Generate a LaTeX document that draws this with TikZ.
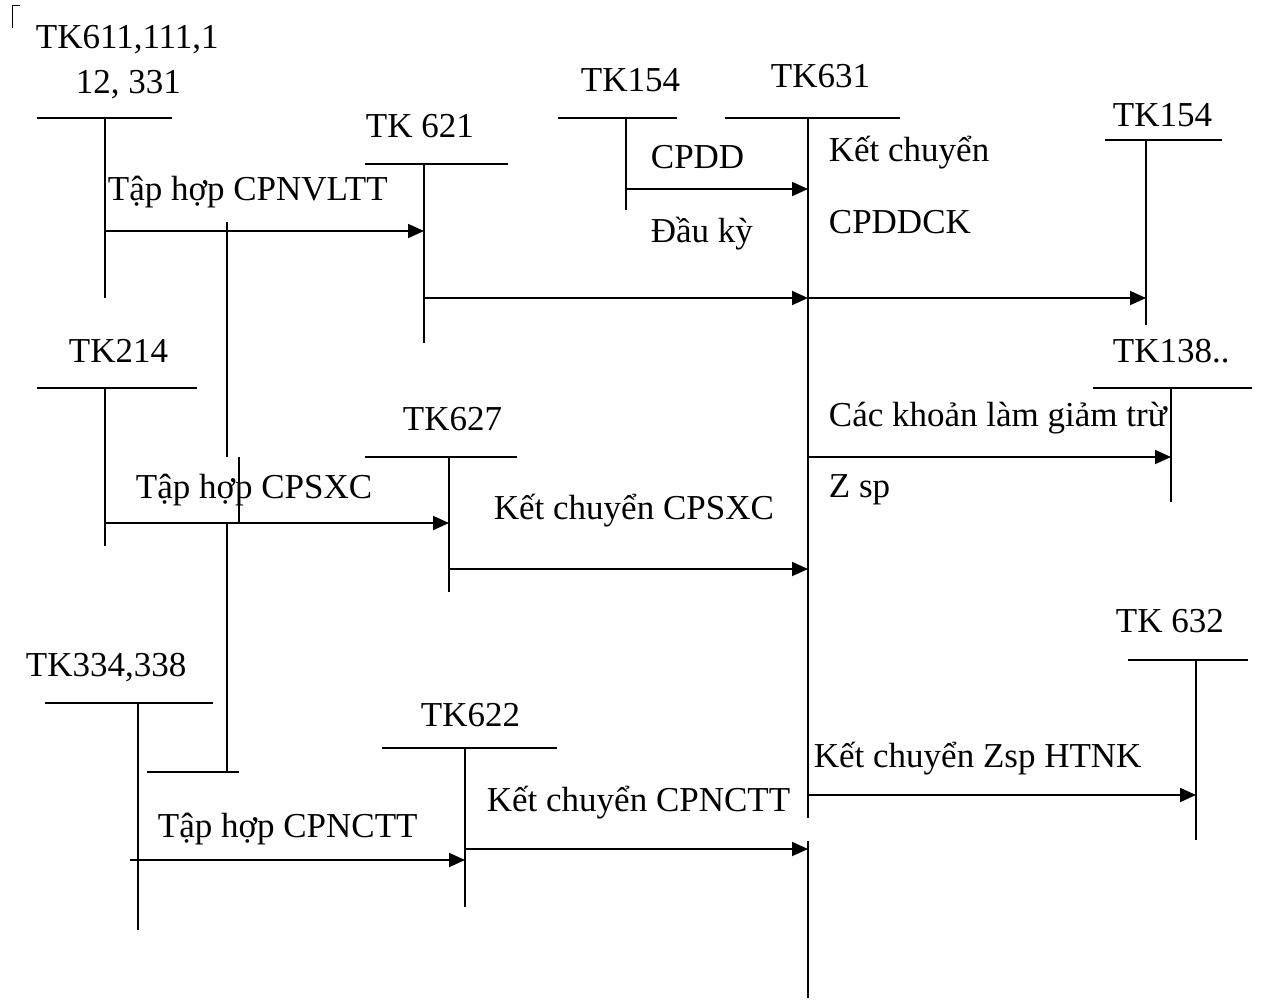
\documentclass[tikz,border=0pt]{standalone}
\usepackage{fontspec}
\setmainfont{Liberation Serif}
\usetikzlibrary{arrows.meta}
\begin{document}
\begin{tikzpicture}[x=1pt,y=-1pt,line width=1.8pt,
  lbl/.style={anchor=base west,inner sep=0pt,font=\fontsize{35}{40}\selectfont},
  arr/.style={-{Triangle[length=16pt,width=14pt]},line width=1.8pt}]
\useasboundingbox (0,0) rectangle (1263,1001);
% corner mark
\draw[line width=1pt] (20,5) -- (12,5) -- (12,28);
% ---- labels
\node[lbl] (l611a) at (35,48) {TK611,111,1};
\node[lbl] (l611b) at (75,93) {12, 331};
\node[lbl] (l621) at (365,137) {TK 621};
\node[lbl] (l154a) at (580,91) {TK154};
\node[lbl] (l631) at (770,87) {TK631};
\node[lbl] (l154b) at (1112,126) {TK154};
\node[lbl] (l214) at (68,362) {TK214};
\node[lbl] (l627) at (402,430) {TK627};
\node[lbl] (l138) at (1112,362) {TK138..};
\node[lbl] (l632) at (1115,632) {TK 632};
\node[lbl] (l334) at (25,676) {TK334,338};
\node[lbl] (l622) at (420,726) {TK622};
\node[lbl] (m1) at (107,200) {Tập hợp CPNVLTT};
\node[lbl] (m2) at (650,168) {CPDD};
\node[lbl] (m3) at (650,242) {Đầu kỳ};
\node[lbl] (m4) at (828,161) {Kết chuyển};
\node[lbl] (m5) at (828,233) {CPDDCK};
\node[lbl] (m6) at (135,498) {Tập hợp CPSXC};
\node[lbl] (m7) at (493,519) {Kết chuyển CPSXC};
\node[lbl] (m8) at (828,426) {Các khoản làm giảm trừ};
\node[lbl] (m9) at (828,497) {Z sp};
\node[lbl] (m10) at (813,767) {Kết chuyển Zsp HTNK};
\node[lbl] (m11) at (157,837) {Tập hợp CPNCTT};
\node[lbl] (m12) at (486,811) {Kết chuyển CPNCTT};
% ---- T accounts
% TK611
\draw (37,118) -- (172,118);
\coordinate (v611t) at (105,118); \coordinate (v611b) at (105,298);
\draw (v611t) -- (v611b);
% TK621
\draw (365,164) -- (508,164);
\coordinate (v621t) at (424,164); \coordinate (v621b) at (424,343);
\draw (v621t) -- (v621b);
% TK154 top
\draw (558,118) -- (677,118);
\coordinate (v154t) at (626,118); \coordinate (v154b) at (626,210);
\draw (v154t) -- (v154b);
% TK631
\draw (725,118) -- (900,118);
\coordinate (v631t) at (808,118); \coordinate (v631m) at (808,818);
\coordinate (v631n) at (808,841); \coordinate (v631b) at (808,998);
\draw (v631t) -- (v631m);
\draw (v631n) -- (v631b);
% TK154 right
\draw (1105,140) -- (1222,140);
\coordinate (v154rt) at (1146,140); \coordinate (v154rb) at (1146,325);
\draw (v154rt) -- (v154rb);
% TK214
\draw (37,388) -- (197,388);
\coordinate (v214t) at (105,388); \coordinate (v214b) at (105,546);
\draw (v214t) -- (v214b);
% TK627
\draw (365,457) -- (517,457);
\coordinate (v627t) at (449,457); \coordinate (v627b) at (449,592);
\draw (v627t) -- (v627b);
% TK138
\draw (1093,388) -- (1252,388);
\coordinate (v138t) at (1171,388); \coordinate (v138b) at (1171,502);
\draw (v138t) -- (v138b);
% TK632
\draw (1128,660) -- (1248,660);
\coordinate (v632t) at (1196,660); \coordinate (v632b) at (1196,840);
\draw (v632t) -- (v632b);
% TK334
\draw (45,703) -- (213,703);
\coordinate (v334t) at (138,703); \coordinate (v334b) at (138,930);
\draw (v334t) -- (v334b);
% TK622
\draw (382,748) -- (557,748);
\coordinate (v622t) at (465,748); \coordinate (v622b) at (465,907);
\draw (v622t) -- (v622b);
% connecting bracket line
\coordinate (k1) at (227,222); \coordinate (k2) at (227,457);
\coordinate (k3) at (239,457); \coordinate (k4) at (239,523);
\coordinate (k5) at (227,523); \coordinate (k6) at (227,772);
\coordinate (k7) at (147,772); \coordinate (k8) at (239,772);
\draw (k1) -- (k2);
\draw (k3) -- (k4);
\draw (k5) -- (k6);
\draw (k7) -- (k8);
% ---- arrows
\coordinate (a1s) at (105,231); \coordinate (a1e) at (424,231);
\draw[arr] (a1s) -- (a1e);
\coordinate (a2s) at (626,189); \coordinate (a2e) at (808,189);
\draw[arr] (a2s) -- (a2e);
\coordinate (a3s) at (424,298); \coordinate (a3e) at (808,298);
\draw[arr] (a3s) -- (a3e);
\coordinate (a4e) at (1146,298);
\draw[arr] (a3e) -- (a4e);
\coordinate (a5s) at (105,523); \coordinate (a5e) at (449,523);
\draw[arr] (a5s) -- (a5e);
\coordinate (a6s) at (449,569); \coordinate (a6e) at (808,569);
\draw[arr] (a6s) -- (a6e);
\coordinate (a7s) at (808,457); \coordinate (a7e) at (1171,457);
\draw[arr] (a7s) -- (a7e);
\coordinate (a8s) at (808,795); \coordinate (a8e) at (1196,795);
\draw[arr] (a8s) -- (a8e);
\coordinate (a9s) at (130,860); \coordinate (a9e) at (465,860);
\draw[arr] (a9s) -- (a9e);
\coordinate (a10s) at (465,849); \coordinate (a10e) at (808,849);
\draw[arr] (a10s) -- (a10e);
\end{tikzpicture}
\end{document}
